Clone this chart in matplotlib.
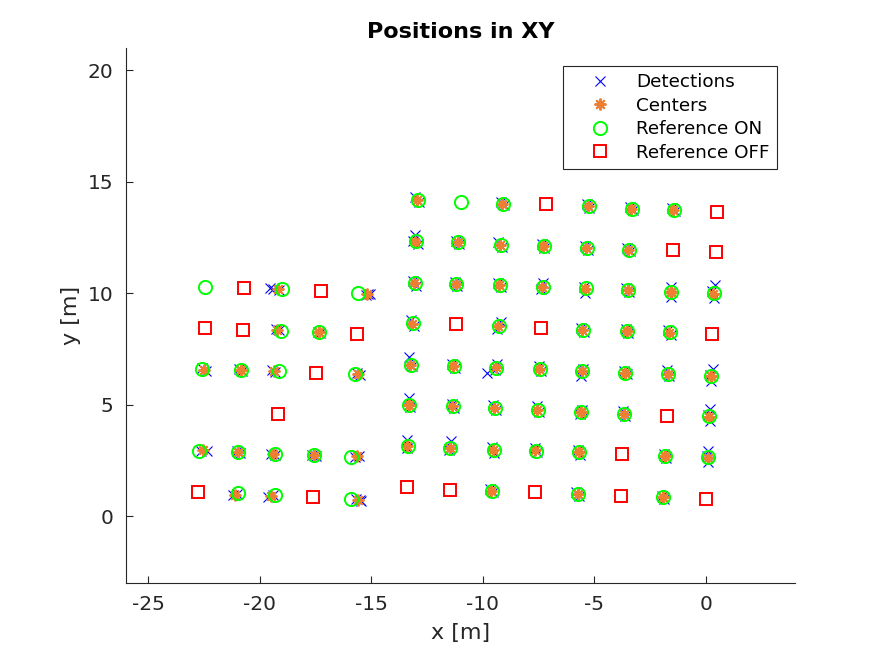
import matplotlib
matplotlib.use("Agg")
import matplotlib.pyplot as plt

plt.rcParams['font.family'] = ['DejaVu Sans']
plt.rcParams['axes.unicode_minus'] = False

# Reference positions (ON = active, OFF = inactive)
ref_on_x = [-22.44, -19.00, -15.59, -19.07, -17.36, -22.58, -20.86, -19.15, -15.71,
            -22.71, -20.97, -19.30, -17.58, -15.89, -21.00, -19.33, -15.90,
            -12.91, -11.00, -9.10, -5.25, -3.32, -1.44,
            -13.00, -11.09, -9.17, -7.27, -5.33, -3.44,
            -13.06, -11.19, -9.25, -7.30, -5.39, -3.49, -1.54, 0.36,
            -13.13, -9.28, -5.51, -3.53, -1.62,
            -13.24, -11.31, -9.39, -7.45, -5.53, -3.62, -1.69, 0.25,
            -13.29, -11.34, -9.47, -7.53, -5.58, -3.67, 0.15,
            -13.36, -11.45, -9.50, -7.60, -5.69, -1.84, 0.10,
            -9.60, -5.73, -1.92]
ref_on_y = [10.30, 10.17, 10.03, 8.31, 8.24, 6.59, 6.55, 6.49, 6.37,
            2.91, 2.86, 2.77, 2.72, 2.63, 1.02, 0.94, 0.79,
            14.18, 14.09, 14.02, 13.90, 13.80, 13.75,
            12.32, 12.29, 12.17, 12.12, 12.05, 11.96,
            10.45, 10.43, 10.36, 10.30, 10.22, 10.13, 10.06, 9.99,
            8.65, 8.52, 8.35, 8.30, 8.24,
            6.80, 6.74, 6.64, 6.59, 6.52, 6.44, 6.37, 6.29,
            4.98, 4.92, 4.84, 4.75, 4.69, 4.60, 4.47,
            3.15, 3.05, 2.97, 2.93, 2.86, 2.70, 2.63,
            1.13, 0.99, 0.84]

ref_off_x = [-20.72, -17.27, -22.47, -20.77, -15.65, -17.46, -19.19, -22.78, -17.62,
             -7.15, 0.49, -1.48, 0.46, -11.19, -7.38, 0.28, -1.74, -3.74,
             -13.41, -11.48, -7.66, -3.80, 0.03]
ref_off_y = [10.22, 10.08, 8.42, 8.37, 8.19, 6.40, 4.60, 1.06, 0.88,
             13.98, 13.66, 11.93, 11.83, 8.60, 8.43, 8.15, 4.50, 2.77,
             1.29, 1.18, 1.06, 0.91, 0.76]

# Estimated centers of the detection clusters
center_x = [-19.18, -15.20, -19.22, -17.33, -22.49, -20.86, -19.37, -15.60,
            -22.56, -20.97, -19.40, -17.56, -15.66, -21.10, -19.51, -15.60,
            -12.93, -9.12, -5.27, -3.34, -1.46,
            -13.02, -11.12, -9.22, -7.30, -5.36, -3.47,
            -13.08, -11.20, -9.27, -7.33, -5.42, -3.50, -1.55, 0.34,
            -13.16, -9.30, -5.53, -3.55, -1.63,
            -13.26, -11.33, -9.42, -7.48, -5.55, -3.63, -1.70, 0.24,
            -13.30, -11.38, -9.49, -7.56, -5.60, -3.68, 0.14,
            -13.38, -11.48, -9.55, -7.64, -5.70, -1.85, 0.09,
            -9.63, -5.75, -1.93]
center_y = [10.17, 9.96, 8.36, 8.24, 6.57, 6.55, 6.52, 6.37,
            2.95, 2.86, 2.77, 2.72, 2.68, 0.97, 0.91, 0.73,
            14.18, 14.02, 13.91, 13.80, 13.75,
            12.30, 12.28, 12.15, 12.11, 12.03, 11.95,
            10.44, 10.42, 10.35, 10.29, 10.20, 10.13, 10.06, 9.98,
            8.64, 8.51, 8.35, 8.29, 8.23,
            6.80, 6.74, 6.67, 6.61, 6.51, 6.43, 6.37, 6.27,
            4.98, 4.92, 4.84, 4.78, 4.69, 4.60, 4.46,
            3.15, 3.06, 2.98, 2.96, 2.86, 2.70, 2.62,
            1.14, 0.99, 0.84]

# Raw detections
det_x = [-19.55, -19.42, -19.12, -15.13, -15.05, -15.25, -19.28, -19.15, -17.40, -17.28,
         -22.60, -22.42, -20.92, -20.80, -19.45, -19.30, -15.65, -15.52,
         -22.37, -22.62, -21.03, -20.90, -19.50, -19.32, -17.66, -17.47, -15.75, -15.55,
         -21.22, -21.02, -19.62, -19.42, -15.50, -15.45, -15.68,
         -13.02, -12.85, -9.18, -9.05, -5.32, -5.22, -3.40, -3.28, -1.52, -1.40,
         -13.02, -12.92, -13.12, -11.18, -11.05, -9.30, -9.12, -7.35, -7.25, -5.42, -5.30, -3.53, -3.40,
         -13.15, -13.00, -11.26, -11.14, -9.32, -9.20, -7.32, -7.40, -5.40, -5.45, -3.56, -3.44,
         -1.56, -1.55, 0.40, 0.35, 0.28,
         -13.22, -13.08, -9.17, -9.36, -5.58, -5.46, -3.60, -3.48, -1.68, -1.57,
         -13.30, -13.18, -11.38, -11.26, -9.83, -9.36, -9.45, -7.50, -7.40, -5.58, -5.50,
         -3.68, -3.55, -1.72, -1.64, 0.33, 0.25, 0.20,
         -13.33, -13.25, -11.40, -11.30, -9.53, -9.42, -7.58, -7.50, -5.64, -5.55,
         -3.72, -3.62, 0.17, 0.17, 0.10,
         -13.38, -13.42, -11.42, -11.52, -9.58, -9.50, -7.68, -7.58, -5.74, -5.64,
         -1.88, -1.80, 0.12, 0.10, 0.04,
         -9.68, -9.56, -5.80, -5.68, -1.98, -1.88]
det_y = [10.22, 10.20, 10.14, 9.96, 9.98, 9.93, 8.40, 8.34, 8.26, 8.20,
         6.65, 6.52, 6.58, 6.50, 6.55, 6.48, 6.40, 6.33,
         2.93, 2.90, 2.90, 2.82, 2.80, 2.74, 2.76, 2.70, 2.66, 2.70,
         0.95, 0.99, 0.88, 0.94, 0.72, 0.68, 0.76,
         14.30, 14.10, 14.10, 13.96, 13.98, 13.84, 13.88, 13.74, 13.82, 13.70,
         12.62, 12.20, 12.36, 12.36, 12.22, 12.28, 12.08, 12.22, 12.04, 12.12, 11.96, 12.04, 11.88,
         10.55, 10.34, 10.52, 10.34, 10.48, 10.26, 10.48, 10.20, 10.00, 10.30, 10.22, 10.04,
         9.85, 10.28, 10.35, 9.80, 10.08,
         8.78, 8.52, 8.72, 8.40, 8.45, 8.26, 8.40, 8.20, 8.34, 8.14,
         7.13, 6.74, 6.84, 6.66, 6.41, 6.82, 6.55, 6.74, 6.50, 6.30, 6.62,
         6.52, 6.36, 6.55, 6.28, 6.62, 6.05, 6.35,
         5.28, 4.88, 5.02, 4.84, 4.98, 4.74, 4.96, 4.68, 4.56, 4.78,
         4.70, 4.50, 4.80, 4.25, 4.55,
         3.40, 3.05, 3.35, 2.96, 3.10, 2.82, 3.04, 2.86, 2.96, 2.76,
         2.80, 2.60, 2.90, 2.45, 2.68,
         1.22, 1.06, 1.08, 0.92, 0.92, 0.78]

fig = plt.figure(figsize=(8.91, 6.56), dpi=100)
ax = fig.add_axes([126 / 891, 73 / 656, 669 / 891, 535 / 656])

ax.plot(det_x, det_y, linestyle='none', marker='x', color='blue',
        markersize=6.5, markeredgewidth=0.8, label='Detections')
ax.plot(center_x, center_y, linestyle='none', marker=(8, 2, 0), color='#ED7F33',
        markersize=8.5, markeredgewidth=1.4, label='Centers')
ax.plot(ref_on_x, ref_on_y, linestyle='none', marker='o', markerfacecolor='none',
        markeredgecolor='#00FF00', markersize=9.5, markeredgewidth=1.4, label='Reference ON')
ax.plot(ref_off_x, ref_off_y, linestyle='none', marker='s', markerfacecolor='none',
        markeredgecolor='#FF0000', markersize=8.5, markeredgewidth=1.4, label='Reference OFF')

ax.set_xlim(-26, 4)
ax.set_ylim(-3, 21)
ax.set_xticks([-25, -20, -15, -10, -5, 0])
ax.set_yticks([0, 5, 10, 15, 20])
ax.spines['top'].set_visible(False)
ax.spines['right'].set_visible(False)
for s in ('left', 'bottom'):
    ax.spines[s].set_color('#262626')
    ax.spines[s].set_linewidth(0.8)
ax.tick_params(direction='in', length=5, width=0.8, colors='#262626', labelsize=14.5, pad=9)

ax.set_xlabel('x [m]', fontsize=16, color='#262626', labelpad=6)
ax.set_ylabel('y [m]', fontsize=16, color='#262626', labelpad=5)
ax.set_title('Positions in XY', fontsize=16, fontweight='bold', pad=7)

leg = ax.legend(loc='upper right', bbox_to_anchor=(777 / 891, 1 - 65.7 / 656),
                bbox_transform=fig.transFigure, borderaxespad=0, fontsize=13.2,
                fancybox=False, framealpha=1, edgecolor='#262626', borderpad=0.4,
                handlelength=3.3, handletextpad=0.3, labelspacing=0.3, numpoints=1)
leg.get_frame().set_linewidth(0.8)

fig.savefig('out.png', dpi=100)
